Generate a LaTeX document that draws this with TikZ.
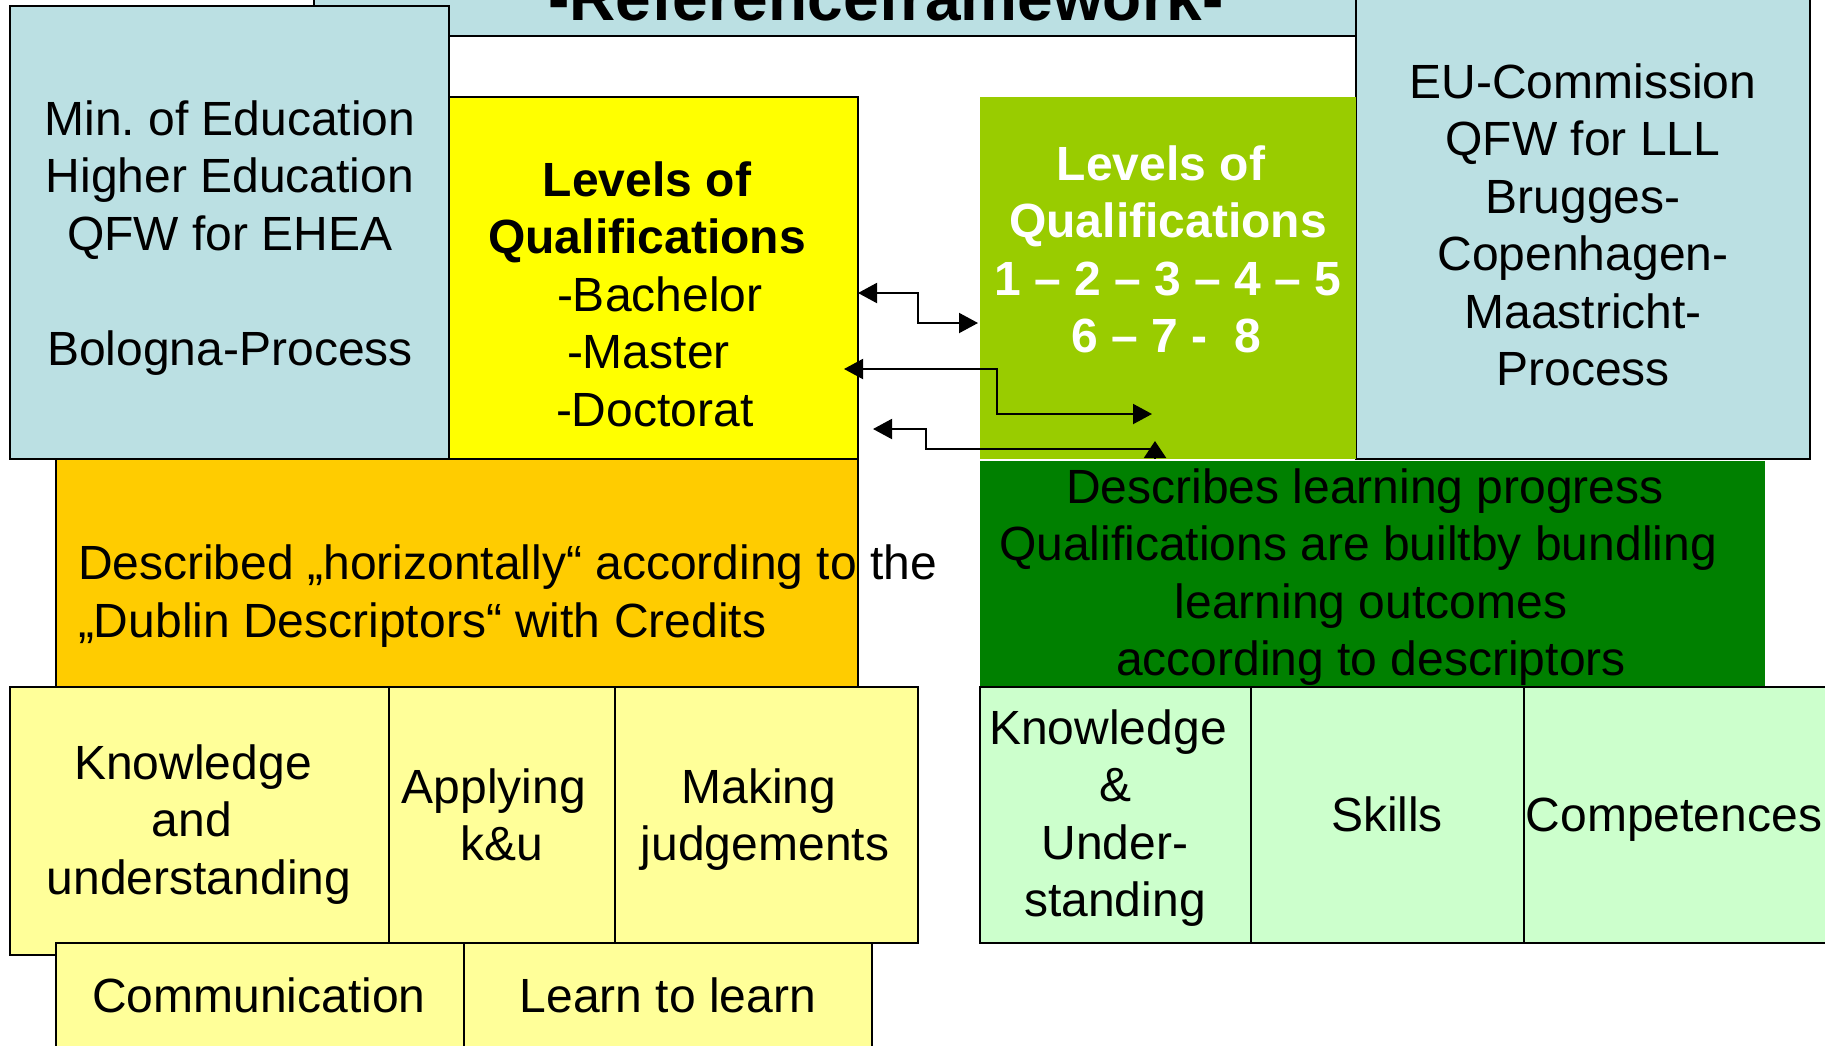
\documentclass[tikz,border=0pt]{standalone}
\usepackage{fontspec}
\setmainfont{Liberation Sans}
\usetikzlibrary{arrows.meta}
\frenchspacing
\definecolor{cBlue}{RGB}{187,224,227}
\definecolor{cYellow}{RGB}{255,255,0}
\definecolor{cOrange}{RGB}{255,204,0}
\definecolor{cLime}{RGB}{153,204,0}
\definecolor{cDkGreen}{RGB}{0,128,0}
\definecolor{cLtYellow}{RGB}{255,255,153}
\definecolor{cLtGreen}{RGB}{204,255,204}
\begin{document}
\begin{tikzpicture}[x=1pt,y=-1pt,
  box/.style={draw=black, line width=2pt, inner sep=0pt, outer sep=0pt, anchor=north west},
  plainbox/.style={draw=none, inner sep=0pt, outer sep=0pt, anchor=north west},
  txt/.style={inner sep=0pt, outer sep=0pt, anchor=base, font=\fontsize{48}{57.5}\selectfont},
  btxt/.style={txt, font=\fontsize{48}{57.5}\selectfont\bfseries},
  ltxt/.style={txt, anchor=base west},
  conn/.style={line width=2pt, draw=black},
  >={Triangle[length=19pt,width=20pt]}
]
\clip (0,0) rectangle (1825,1045);
\fill[white] (0,0) rectangle (1825,1045);

% top boxes
\node[box, fill=cBlue, minimum width=1042pt, minimum height=136pt] (title) at (314,-100) {};
\node[inner sep=0pt, anchor=base, font=\fontsize{64}{70}\selectfont\bfseries] (titletxt) at (886,20) {-Referenceframework-};
\node[box, fill=cBlue, minimum width=454pt, minimum height=559pt] (eu) at (1356,-100) {};
\node[box, fill=cBlue, minimum width=439pt, minimum height=453pt] (min) at (10,6) {};
\node[box, fill=cYellow, minimum width=409pt, minimum height=362pt] (lvl) at (449,97) {};
\node[plainbox, fill=cLime, minimum width=376pt, minimum height=362pt] (eqf) at (980,97) {};

% left blue text
\node[txt] (m1) at (230,135) {Min. of Education};
\node[txt] (m2) at (230,192.5) {Higher Education};
\node[txt] (m3) at (230,250) {QFW for EHEA};
\node[txt] (m4) at (230,365) {Bologna-Process};

% yellow text
\node[btxt] (l1) at (647,196) {Levels of};
\node[btxt] (l2) at (647,253.5) {Qualifications};
\node[ltxt] (l3) at (557,311) {-Bachelor};
\node[ltxt] (l4) at (567,368.5) {-Master};
\node[ltxt] (l5) at (556,426) {-Doctorat};

% lime text
\node[btxt, text=white] (g1) at (1161,180) {Levels of};
\node[btxt, text=white] (g2) at (1168,237.5) {Qualifications};
\node[btxt, text=white] (g3) at (1168,295) {1 – 2 – 3 – 4 – 5};
\node[btxt, text=white] (g4) at (1166,352.5) {6 – 7 -\ \ 8};

% EU text
\node[txt] (e1) at (1583,98) {EU-Commission};
\node[txt] (e2) at (1583,155.5) {QFW for LLL};
\node[txt] (e3) at (1583,213) {Brugges-};
\node[txt] (e4) at (1583,270.5) {Copenhagen-};
\node[txt] (e5) at (1583,328) {Maastricht-};
\node[txt] (e6) at (1583,385.5) {Process};

% middle boxes
\node[box, fill=cOrange, minimum width=802pt, minimum height=228pt] (dub) at (56,459) {};
\node[ltxt] (d1) at (78,579) {Described „horizontally“ according to the};
\node[ltxt] (d2) at (78,637) {„Dublin Descriptors“ with Credits};
\node[plainbox, fill=cDkGreen, minimum width=785pt, minimum height=225pt] (prog) at (980,461) {};
\node[txt] (p1) at (1365,503) {Describes learning progress};
\node[txt] (p2) at (1358,560.5) {Qualifications are builtby bundling};
\node[txt] (p3) at (1371,618) {learning outcomes};
\node[txt] (p4) at (1371,675.5) {according to descriptors};

% bottom left boxes
\node[box, fill=cLtYellow, minimum width=379pt, minimum height=268pt] (ku) at (10,687) {};
\node[box, fill=cLtYellow, minimum width=226pt, minimum height=256pt] (app) at (389,687) {};
\node[box, fill=cLtYellow, minimum width=303pt, minimum height=256pt] (mak) at (615,687) {};
\node[box, fill=cLtYellow, minimum width=408pt, minimum height=150pt] (com) at (56,943) {};
\node[box, fill=cLtYellow, minimum width=408pt, minimum height=150pt] (ltl) at (464,943) {};
\node[txt] (k1) at (193,779) {Knowledge};
\node[txt] (k2) at (192,836.5) {and};
\node[txt] (k3) at (199,894) {understanding};
\node[txt] (a1) at (494,803) {Applying};
\node[txt] (a2) at (502,860.5) {k\&u};
\node[txt] (j1) at (759,803) {Making};
\node[txt] (j2) at (765,860.5) {judgements};
\node[txt] (c1) at (259,1012) {Communication};
\node[txt] (c2) at (668,1012) {Learn to learn};

% bottom right boxes
\node[box, fill=cLtGreen, minimum width=271pt, minimum height=256pt] (kur) at (980,687) {};
\node[box, fill=cLtGreen, minimum width=273pt, minimum height=256pt] (ski) at (1251,687) {};
\node[box, fill=cLtGreen, minimum width=350pt, minimum height=256pt] (cmp) at (1524,687) {};
\node[txt] (r1) at (1108,744) {Knowledge};
\node[txt] (r2) at (1115,801.5) {\&};
\node[txt] (r3) at (1115,859) {Under-};
\node[txt] (r4) at (1115,916.5) {standing};
\node[txt] (s1) at (1387,831) {Skills};
\node[txt] (s2) at (1674,831) {Competences};

% connectors
\coordinate (a1s) at (858,293);
\coordinate (a1e) at (978,323);
\coordinate (a2s) at (844,369);
\coordinate (a2e) at (1152,414);
\coordinate (a3s) at (873,429);
\coordinate (a3m) at (1155,449);
\coordinate (a3b) at (1155,459);
\coordinate (a3e) at (1155,441);
\draw[conn, <->] (a1s) -- ++(60,0) |- (a1e);
\draw[conn, <->] (a2s) -- ++(153,0) |- (a2e);
\draw[conn, <-] (a3s) -- ++(53,0) |- (a3m);
\draw[conn, -{Triangle[length=17pt,width=22pt]}] (a3b) -- (a3e);
\end{tikzpicture}
\end{document}
